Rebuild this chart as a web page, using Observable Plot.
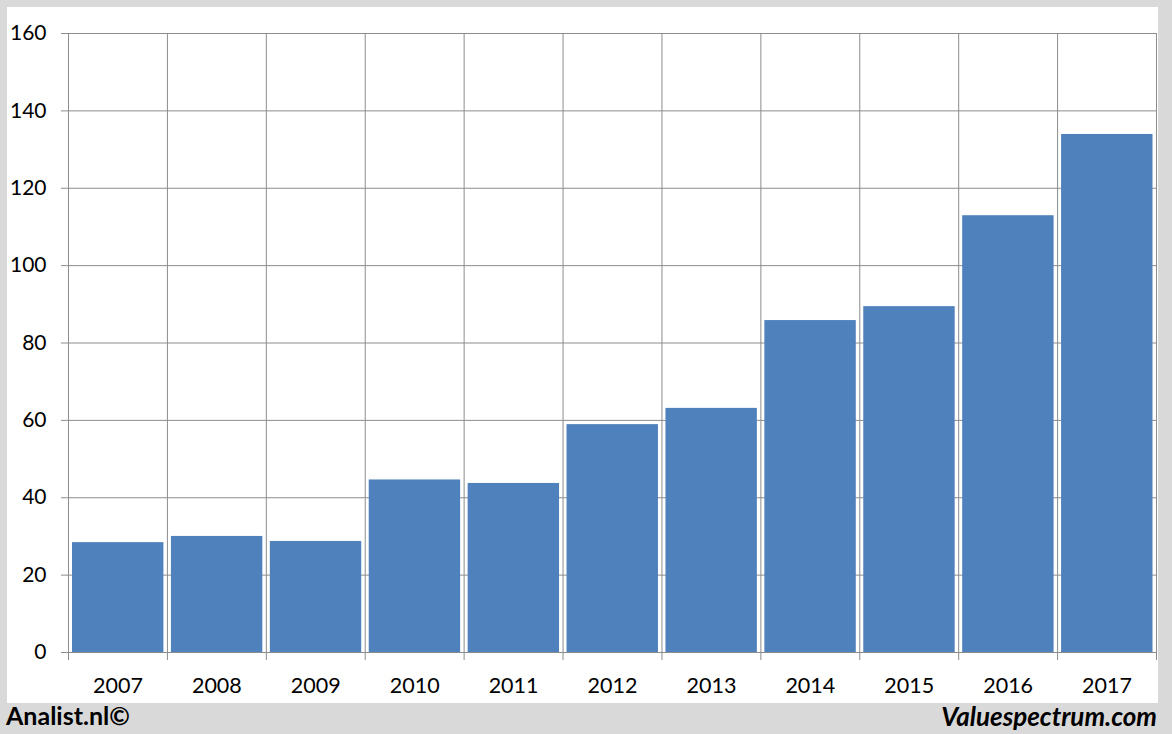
<!DOCTYPE html>
<html>
<head>
<meta charset="utf-8">
<script src="https://cdn.jsdelivr.net/npm/d3@7"></script>
<script src="https://cdn.jsdelivr.net/npm/@observablehq/plot@0.6"></script>
<style>
  html, body { margin: 0; padding: 0; }
  body { width: 1172px; height: 734px; background: #d9d9d9; position: relative; overflow: hidden; font-family: Lato, "Open Sans", sans-serif; }
  #panel { position: absolute; left: 7px; top: 7px; width: 1151px; height: 696px; background: #ffffff; }
  #left { position: absolute; left: 6px; top: 700px; font-weight: bold; font-size: 25px; color: #000; }
  #right { position: absolute; right: 15px; top: 700px; font-weight: bold; font-style: italic; font-size: 26px; color: #000; }
</style>
</head>
<body>
<div id="panel"></div>
<div id="left">Analist.nl©</div>
<div id="right">Valuespectrum.com</div>
<script>
const years = [2007, 2008, 2009, 2010, 2011, 2012, 2013, 2014, 2015, 2016, 2017];
const values = [28.4, 30.0, 28.7, 44.6, 43.7, 58.9, 63.1, 85.8, 89.4, 112.9, 133.9];
const yTicks = [0, 20, 40, 60, 80, 100, 120, 140, 160];

const data = years.map((y, i) => ({year: y, value: values[i]}));
const boundaries = years.map(y => y - 0.5).concat([years[years.length - 1] + 0.5]);

const chart = Plot.plot({
  width: 1151,
  height: 696,
  marginLeft: 61,
  marginRight: 2,
  marginTop: 26,
  marginBottom: 51,
  style: {fontFamily: "Lato, 'Open Sans', sans-serif", fontSize: "21px", background: "#ffffff", color: "#000"},
  x: {type: "linear", domain: [years[0] - 0.5, years[years.length - 1] + 0.5]},
  y: {domain: [0, 160]},
  marks: [
    Plot.gridY(yTicks, {stroke: "#8c8c8c", strokeOpacity: 1, strokeWidth: 1}),
    Plot.ruleX(boundaries, {y1: 0, y2: 160, stroke: "#8c8c8c", strokeWidth: 1}),
    Plot.rectY(data, {x1: d => d.year - 0.5, x2: d => d.year + 0.5, y: "value", fill: "#4f81bd", insetLeft: 4, insetRight: 3.5}),
    Plot.axisY(yTicks, {tickSize: 7, tickPadding: 15, stroke: "#8c8c8c", tickFormat: d => String(d), fontSize: 21, label: null}),
    Plot.axisX(boundaries, {tickSize: 8, tickFormat: () => "", stroke: "#8c8c8c", label: null}),
    Plot.axisX(years, {tickSize: 0, tickPadding: 25, tickFormat: d => String(d), fontSize: 21.5, label: null}),
    Plot.ruleY([0], {stroke: "#8c8c8c"})
  ]
});
chart.style.position = "absolute";
chart.style.left = "0px";
chart.style.top = "0px";
document.getElementById("panel").appendChild(chart);
</script>
</body>
</html>
